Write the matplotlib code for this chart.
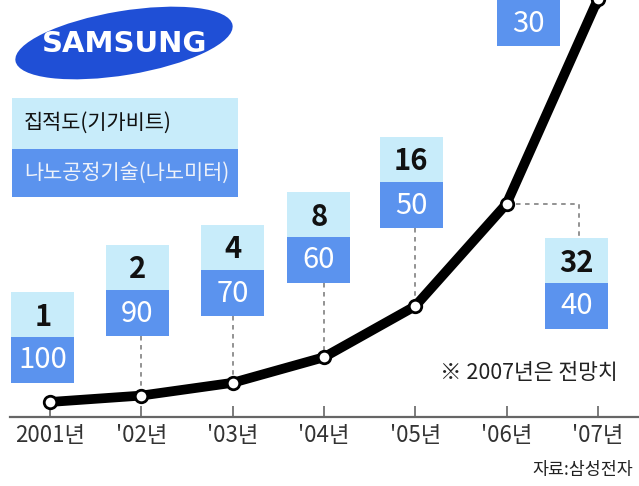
import matplotlib.pyplot as plt
from matplotlib.patches import Rectangle, Ellipse
from matplotlib.transforms import Affine2D

plt.rcParams['font.family'] = ['Noto Sans CJK KR', 'DejaVu Sans']

# data
years = ['2001년', "'02년", "'03년", "'04년", "'05년", "'06년", "'07년"]
density_gb = [1, 2, 4, 8, 16, 32, 64]        # 집적도 (기가비트)
process_nm = [100, 90, 70, 60, 50, 40, 30]   # 나노공정기술 (나노미터)

W, H = 639, 486
light, dark = '#c8ecfa', '#5b93ee'

fig = plt.figure(figsize=(W / 100, H / 100), dpi=100)
fig.patch.set_facecolor('white')
# pixel coords measured from the top-left corner
px = Affine2D().scale(1 / 100, -1 / 100).translate(0, H / 100) + fig.dpi_scale_trans

ax = fig.add_axes([10 / W, 69 / H, 1 - 10 / W, 1 - 69 / H])
xs = list(range(len(years)))
ax.plot(xs, density_gb, color='black', lw=7, solid_joinstyle='round',
        solid_capstyle='round', zorder=3, clip_on=False)
ax.plot(xs, density_gb, 'o', ms=9, mfc='white', mec='black', mew=2,
        zorder=4, clip_on=False)
ax.annotate('', xy=(6.14, 69), xytext=(5.99, 62.5),
            arrowprops=dict(arrowstyle='-|>', color='black', lw=4,
                            mutation_scale=22), annotation_clip=False)
ax.set_xlim(-0.438, 6.451)
ax.set_ylim(-1.35, 63.9)

for s in ['top', 'right', 'left']:
    ax.spines[s].set_visible(False)
ax.spines['bottom'].set_color('#666666')
ax.spines['bottom'].set_linewidth(1.6)
ax.set_yticks([])
ax.set_xticks(xs)
ax.set_xticklabels(years, fontsize=16, color='#333333')
ax.tick_params(axis='x', direction='in', length=8, width=1.2,
               color='#666666', pad=5)
ax.set_facecolor('none')


def to_px(i, v):
    d = ax.transData.transform((i, v))
    return px.inverted().transform(d)


# value boxes
box_dx = [-7, -4, 0, -5, -4, 70, -69]
box_top = [292, 245, 225, 192, 137, 238, -45]
bw, bh = 63, 45
for i in xs:
    xp, yp = to_px(i, density_gb[i])
    cx = xp + box_dx[i]
    top = box_top[i]
    fig.add_artist(Rectangle((cx - bw / 2, top), bw, bh, transform=px,
                             facecolor=light, edgecolor='none'))
    fig.add_artist(Rectangle((cx - bw / 2, top + bh), bw, bh + 1, transform=px,
                             facecolor=dark, edgecolor='none'))
    if top >= 0:
        fig.text(cx, top + bh / 2 + 2, str(density_gb[i]), transform=px,
                 ha='center', va='center', fontsize=21, fontweight='bold',
                 color='#111111')
    fig.text(cx, top + bh * 1.5 + 1, str(process_nm[i]), transform=px,
             ha='center', va='center', fontsize=21, color='white')
    dot = dict(color='#8a8a8a', lw=1.3, ls=(0, (2.5, 2.5)), transform=px,
               zorder=-1)
    if 1 <= i <= 4:
        fig.add_artist(plt.Line2D([xp, xp], [top + 2 * bh + 1, yp], **dot))
    elif i == 5:
        fig.add_artist(plt.Line2D([xp, cx + 2, cx + 2], [yp, yp, top], **dot))

# legend
fig.add_artist(Rectangle((12, 98), 226, 51, transform=px,
                         facecolor=light, edgecolor='none'))
fig.add_artist(Rectangle((12, 149), 226, 48, transform=px,
                         facecolor=dark, edgecolor='none'))
fig.text(24, 123, '집적도(기가비트)', transform=px, ha='left', va='center',
         fontsize=15, color='#111111')
fig.text(24, 173, '나노공정기술(나노미터)', transform=px, ha='left',
         va='center', fontsize=15, color='#eef2fa')

# logo
fig.add_artist(Ellipse((124, 43), 220, 64, angle=-9.4, transform=px,
                       facecolor='#1f4fd6', edgecolor='none'))
fig.text(125, 44, 'SAMSUNG', transform=px, ha='center', va='center',
         fontsize=21, fontweight='bold', color='white', family='DejaVu Sans')

# notes
fig.text(440, 373, '※ 2007년은 전망치', transform=px, ha='left', va='center',
         fontsize=15.5, color='#222222')
fig.text(633, 470, '자료:삼성전자', transform=px, ha='right', va='center',
         fontsize=12.5, color='#222222')

fig.savefig('out.png', dpi=100, facecolor='white')
